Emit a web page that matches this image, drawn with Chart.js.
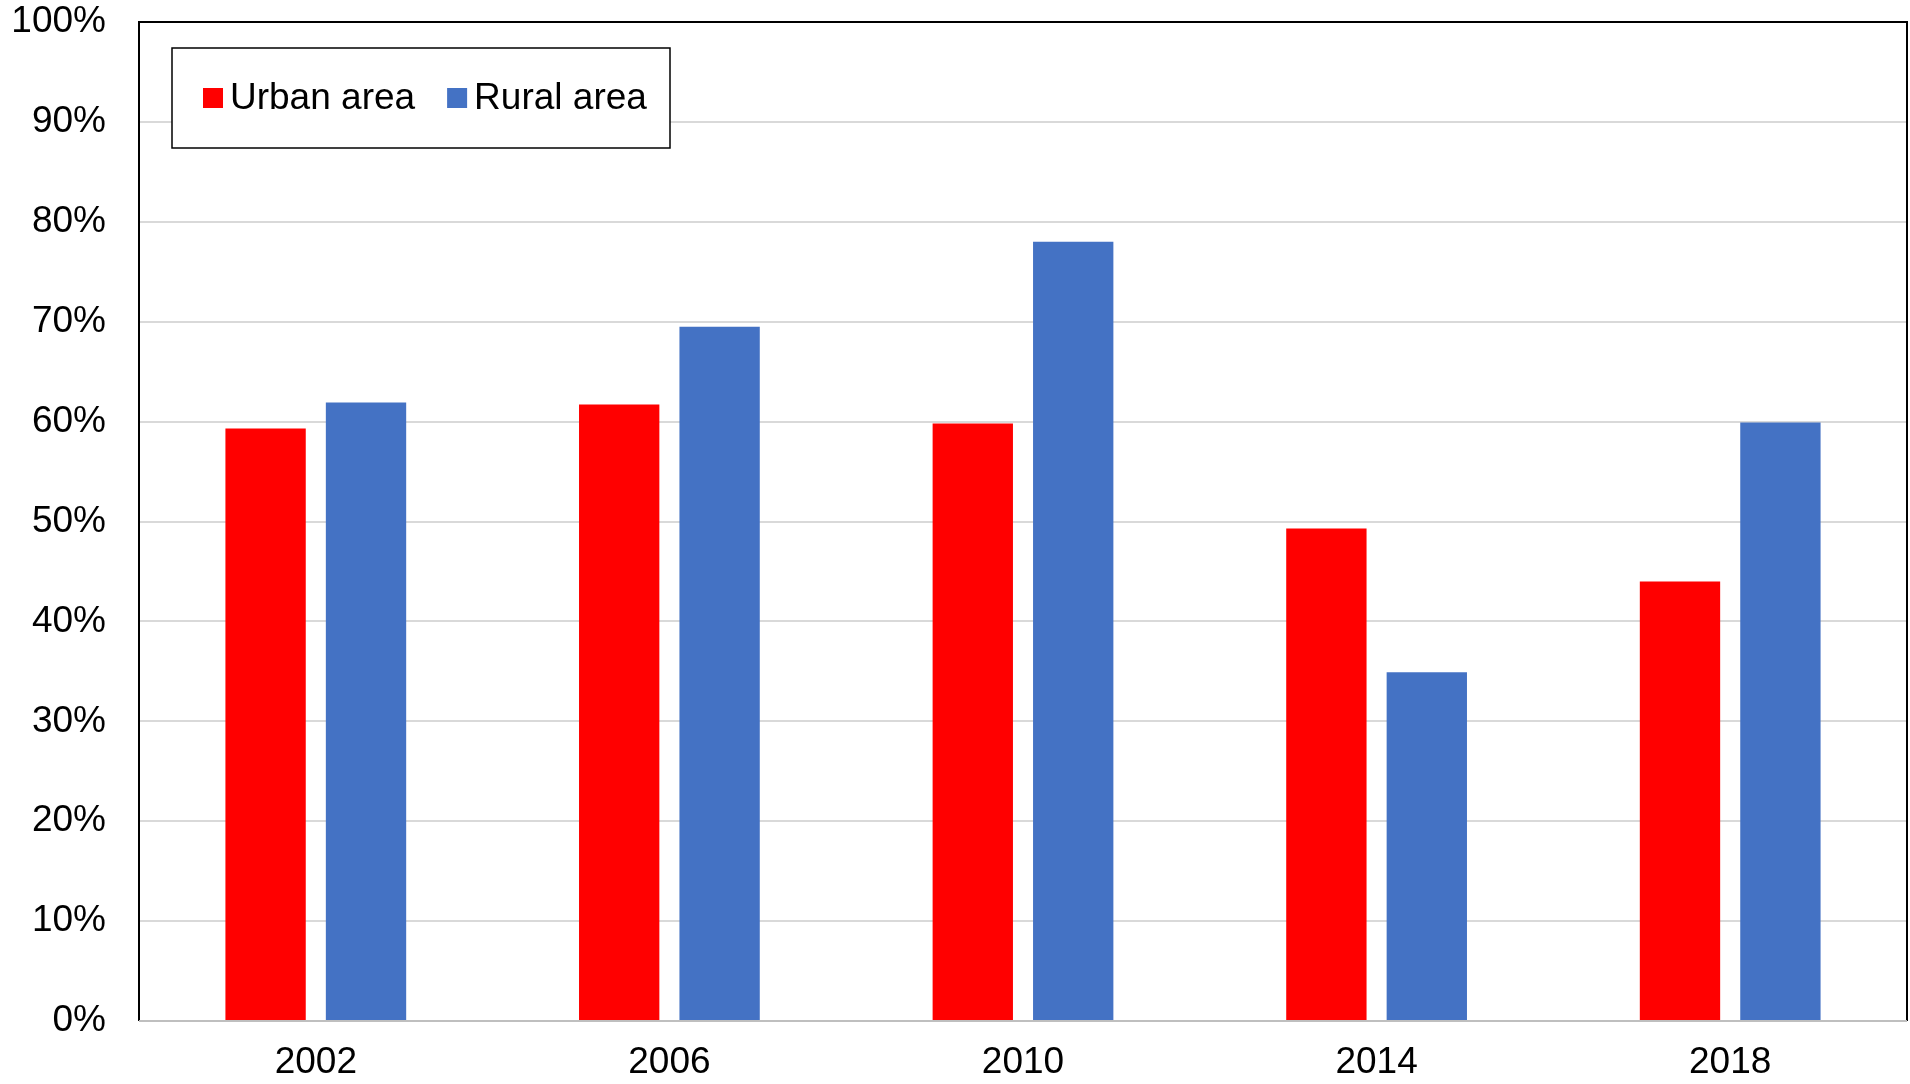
<!DOCTYPE html>
<html>
<head>
<meta charset="utf-8">
<script src="https://cdn.jsdelivr.net/npm/chart.js@4/dist/chart.umd.min.js"></script>
<style>
  html, body { margin: 0; padding: 0; background: #fff; }
  #wrap { width: 1910px; height: 1084px; }
</style>
</head>
<body>
<div id="wrap"><canvas id="graph1"></canvas></div>
<script>
const years = ['2002', '2006', '2010', '2014', '2018'];
const urbanArea = [59.3, 61.7, 59.8, 49.3, 44.0];
const ruralArea = [61.9, 69.5, 78.0, 34.9, 59.9];
const yTicks = [0, 10, 20, 30, 40, 50, 60, 70, 80, 90, 100];

const FONT = '"Liberation Sans", Arial, sans-serif';

// legend box + frame drawn on top of the plot
const frameAndLegend = {
  id: 'frameAndLegend',
  afterDraw(chart) {
    const ctx = chart.ctx;
    const a = chart.chartArea;
    ctx.save();
    ctx.strokeStyle = '#000';
    ctx.lineWidth = 2;
    ctx.beginPath();
    ctx.moveTo(a.left, a.bottom);
    ctx.lineTo(a.left, a.top);
    ctx.lineTo(a.right, a.top);
    ctx.lineTo(a.right, a.bottom);
    ctx.stroke();
    ctx.strokeStyle = '#bfbfbf';
    ctx.beginPath();
    ctx.moveTo(a.left, a.bottom);
    ctx.lineTo(a.right, a.bottom);
    ctx.stroke();

    // legend
    const bx = a.left + 33, by = a.top + 26, bw = 498, bh = 100;
    ctx.fillStyle = '#fff';
    ctx.fillRect(bx, by, bw, bh);
    ctx.strokeStyle = '#000';
    ctx.lineWidth = 1.5;
    ctx.strokeRect(bx, by, bw, bh);
    ctx.font = '37px ' + FONT;
    ctx.textBaseline = 'middle';
    let x = bx + 31;
    const cy = by + 50;
    chart.data.datasets.forEach(ds => {
      ctx.fillStyle = ds.backgroundColor;
      ctx.fillRect(x, cy - 10, 20, 20);
      ctx.fillStyle = '#000';
      ctx.fillText(ds.label, x + 27, cy + 1);
      x += 27 + ctx.measureText(ds.label).width + 32;
    });
    ctx.restore();
  }
};

const graph = new Chart(document.getElementById('graph1'), {
  type: 'bar',
  data: {
    labels: years,
    datasets: [{
      label: 'Urban area',
      data: urbanArea,
      backgroundColor: '#ff0000',
      categoryPercentage: 0.568,
      barPercentage: 0.8
    }, {
      label: 'Rural area',
      data: ruralArea,
      backgroundColor: '#4472c4',
      categoryPercentage: 0.568,
      barPercentage: 0.8
    }]
  },
  options: {
    responsive: true,
    maintainAspectRatio: false,
    animation: false,
    layout: { padding: { top: 22, right: 3, left: 0, bottom: 0 } },
    plugins: {
      legend: { display: false },
      tooltip: { enabled: false }
    },
    scales: {
      x: {
        grid: { display: false, drawTicks: false },
        border: { display: false },
        ticks: {
          color: '#000',
          padding: 20,
          font: { family: FONT, size: 37 }
        },
        afterFit(scale) { scale.height = 63; }
      },
      y: {
        min: 0,
        max: 100,
        afterBuildTicks(scale) { scale.ticks = yTicks.map(v => ({ value: v })); },
        grid: { color: '#d9d9d9', lineWidth: 2, drawTicks: false },
        border: { display: false },
        ticks: {
          color: '#000',
          padding: 33,
          font: { family: FONT, size: 37 },
          callback: v => v + '%'
        },
        afterFit(scale) {
          scale.width = 139;
          scale.paddingTop = 0;
          scale.paddingBottom = 0;
        }
      }
    }
  },
  plugins: [frameAndLegend]
});
</script>
</body>
</html>
